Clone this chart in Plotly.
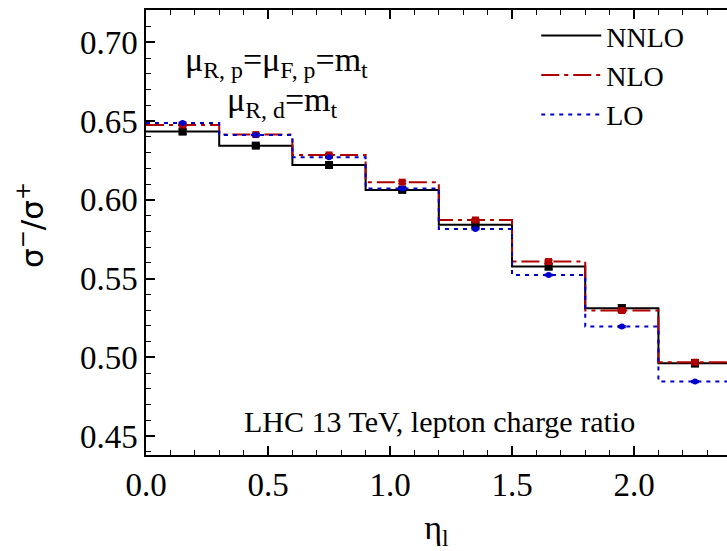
import plotly.graph_objects as go

edges = [0.0, 0.3, 0.6, 0.9, 1.2, 1.5, 1.8, 2.1, 2.4]
centers = [0.15, 0.45, 0.75, 1.05, 1.35, 1.65, 1.95, 2.25]
nnlo = [0.6433, 0.6344, 0.6221, 0.6063, 0.5841, 0.5576, 0.5312, 0.4963]
nnlo_err = [0.0015, 0.0012, 0.0013, 0.0012, 0.0013, 0.0018, 0.0020, 0.0022]
nlo = [0.6475, 0.6414, 0.6285, 0.6112, 0.5872, 0.5608, 0.5297, 0.4969]
nlo_err = [0.0008, 0.0008, 0.0008, 0.0008, 0.0008, 0.0010, 0.0010, 0.0012]
lo = [0.6488, 0.6412, 0.6270, 0.6072, 0.5815, 0.5523, 0.5195, 0.4846]
lo_err = [0.0005, 0.0005, 0.0005, 0.0005, 0.0005, 0.0005, 0.0005, 0.0005]

BLACK = "#000000"
RED = "#b00000"
BLUE = "#0000cc"

fig = go.Figure()

series = [
    ("NNLO", nnlo, nnlo_err, BLACK, "solid", "square", 8),
    ("NLO", nlo, nlo_err, RED, "18px,5px,4px,5px", "square", 7),
    ("LO", lo, lo_err, BLUE, "4px,5px", "circle", 6),
]

for name, vals, errs, col, dash, sym, msz in series:
    fig.add_trace(go.Scatter(
        x=edges, y=vals + [vals[-1]], mode="lines", line_shape="hv",
        line=dict(color=col, width=2, dash=dash), name=name, showlegend=True,
    ))
    fig.add_trace(go.Scatter(
        x=centers, y=vals, mode="markers",
        marker=dict(color=col, symbol=sym, size=msz),
        error_y=dict(type="data", array=errs, color=col, thickness=1.5, width=4),
        showlegend=False, hoverinfo="skip",
    ))

serif = "Liberation Serif"

fig.update_layout(
    width=727, height=551,
    margin=dict(l=146, r=0, t=10, b=96),
    paper_bgcolor="white", plot_bgcolor="white",
    font=dict(family=serif, color="black"),
    legend=dict(x=0.935, y=0.998, xanchor="right", yanchor="top",
                font=dict(family=serif, size=28), bgcolor="rgba(0,0,0,0)",
                itemwidth=60, tracegroupgap=0),
    xaxis=dict(
        range=[0, 2.381], showgrid=False, zeroline=False,
        showline=True, linecolor="black", linewidth=1.5, mirror="ticks",
        ticks="inside", ticklen=9, tickwidth=1.5, tickcolor="black",
        dtick=0.5, tickformat=".1f",
        tickfont=dict(family=serif, size=33),
        minor=dict(dtick=0.1, ticks="inside", ticklen=5, tickcolor="black", tickwidth=1),
        title=dict(text="η<sub>l</sub>", font=dict(family=serif, size=34), standoff=16),
    ),
    yaxis=dict(
        range=[0.438, 0.7205], showgrid=False, zeroline=False,
        showline=True, linecolor="black", linewidth=1.5,
        ticks="inside", ticklen=9, tickwidth=1.5, tickcolor="black",
        dtick=0.05, tickformat=".2f",
        tickfont=dict(family=serif, size=33),
        minor=dict(dtick=0.01, ticks="inside", ticklen=5, tickcolor="black", tickwidth=1),
    ),
    annotations=[
        dict(text="μ<sub>R, p</sub>=μ<sub>F, p</sub>=m<sub>t</sub>", x=276, y=62,
             font=dict(family=serif, size=34)),
        dict(text="μ<sub>R, d</sub>=m<sub>t</sub>", x=282, y=102,
             font=dict(family=serif, size=34)),
        dict(text="LHC 13 TeV, lepton charge ratio", x=439, y=421,
             font=dict(family=serif, size=30)),
        dict(text="σ<sup>−</sup>/σ<sup>+</sup>", x=30, y=225, textangle=-90,
             font=dict(family="DejaVu Sans", size=31)),
    ],
)

# convert pixel annotation positions to paper coords
pw, ph = 727 - 146, 551 - 10 - 96
for a in fig.layout.annotations:
    a.x = (a.x - 146) / pw
    a.y = 1 - (a.y - 10) / ph
    a.xref = "paper"
    a.yref = "paper"
    a.showarrow = False
    a.xanchor = "center"
    a.yanchor = "middle"

fig.write_html("out.html")
